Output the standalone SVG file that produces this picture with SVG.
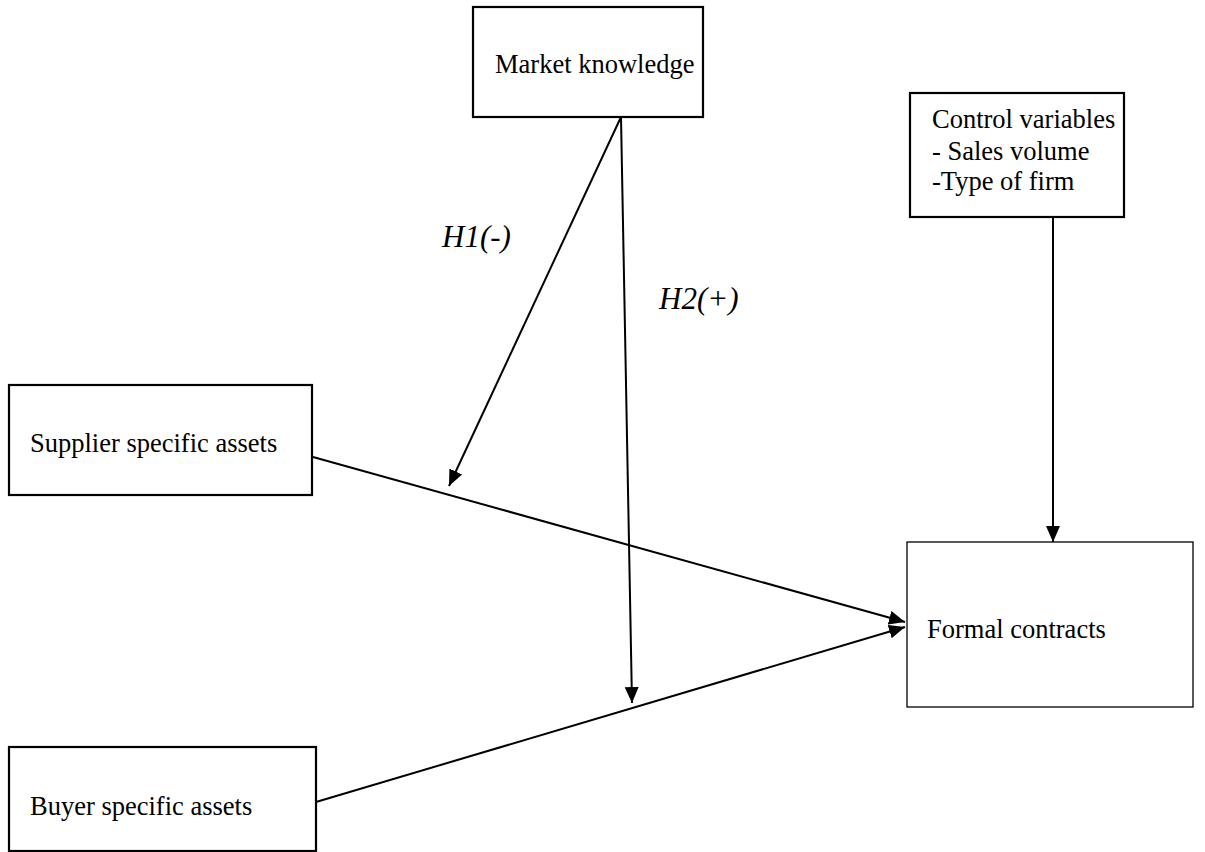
<svg xmlns="http://www.w3.org/2000/svg" width="1205" height="852" viewBox="0 0 1205 852">
<style>
.box{fill:#fff;stroke:#000;stroke-width:2.2}
.thin{stroke-width:1.3}
.lbl{font-family:"Liberation Serif","Times New Roman",serif;font-size:26.5px;fill:#000}
.hyp{font-family:"Liberation Serif","Times New Roman",serif;font-size:31px;font-style:italic;fill:#000}
.con{stroke:#000;stroke-width:2;fill:none;marker-end:url(#ah)}
</style>
<defs>
<marker id="ah" viewBox="0 0 16 16" markerWidth="16" markerHeight="16" refX="16" refY="8" orient="auto" markerUnits="userSpaceOnUse">
<path d="M0,1 L16,8 L0,15 z" fill="#000"/>
</marker>
</defs>
<rect width="1205" height="852" fill="#fff"/>
<g id="market">
<rect class="box" x="473" y="7" width="230" height="110"/>
<text class="lbl" x="495" y="73">Market knowledge</text>
</g>
<g id="control">
<rect class="box" x="910" y="93" width="214" height="124"/>
<text class="lbl" x="932" y="128">Control variables</text>
<text class="lbl" x="932" y="160">- Sales volume</text>
<text class="lbl" x="932" y="190">-Type of firm</text>
</g>
<g id="supplier">
<rect class="box" x="9" y="385" width="303" height="110"/>
<text class="lbl" x="30" y="452">Supplier specific assets</text>
</g>
<g id="buyer">
<rect class="box" x="9" y="747" width="307" height="104"/>
<text class="lbl" x="30" y="815">Buyer specific assets</text>
</g>
<g id="formal">
<rect class="box thin" x="907" y="542" width="286" height="165"/>
<text class="lbl" x="927" y="638">Formal contracts</text>
</g>
<g id="connectors">
<line class="con" x1="621" y1="117" x2="449" y2="486"/>
<line class="con" x1="621" y1="117" x2="632" y2="703"/>
<line class="con" x1="1053" y1="218" x2="1053" y2="542"/>
<line class="con" x1="313" y1="457" x2="905" y2="622"/>
<line class="con" x1="316" y1="802" x2="905" y2="627"/>
</g>
<g id="labels">
<text class="hyp" x="442" y="247">H1(-)</text>
<text class="hyp" x="659" y="309">H2(+)</text>
</g>
</svg>
